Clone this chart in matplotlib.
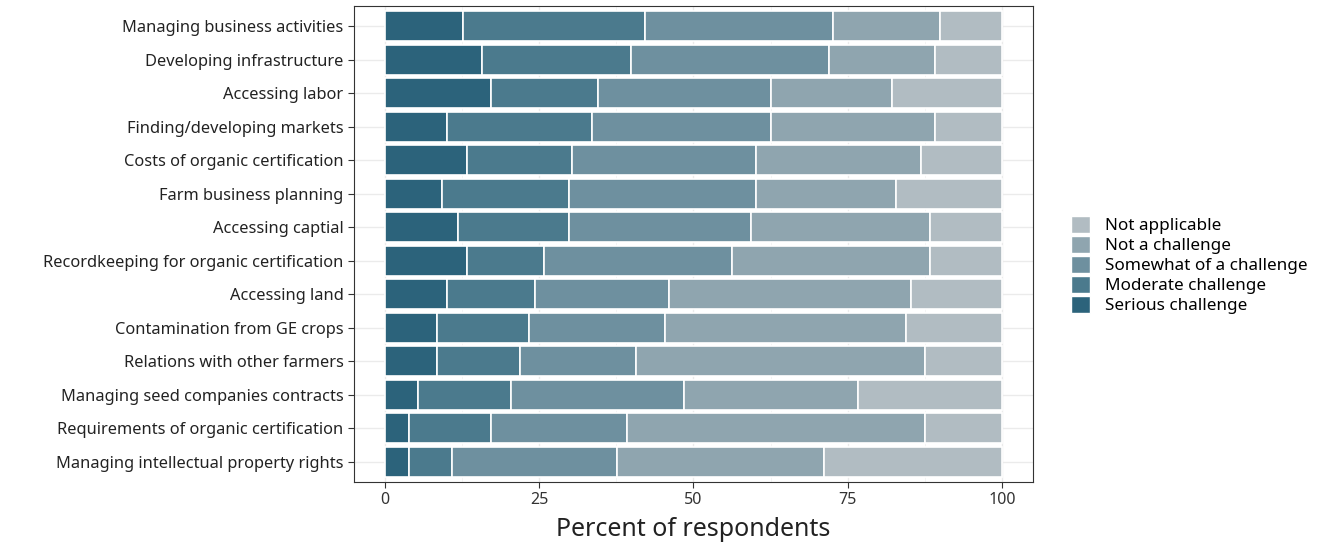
import matplotlib.pyplot as plt
import numpy as np
from matplotlib.patches import Patch

plt.rcParams['font.family'] = ['Noto Sans', 'DejaVu Sans']

challenges = [
    "Managing business activities",
    "Developing infrastructure",
    "Accessing labor",
    "Finding/developing markets",
    "Costs of organic certification",
    "Farm business planning",
    "Accessing captial",
    "Recordkeeping for organic certification",
    "Accessing land",
    "Contamination from GE crops",
    "Relations with other farmers",
    "Managing seed companies contracts",
    "Requirements of organic certification",
    "Managing intellectual property rights",
]

serious = [12.6, 15.7, 17.2, 10.1, 13.3, 9.3, 11.8, 13.3, 10.1, 8.5, 8.5, 5.4, 3.9, 3.9]
moderate = [29.6, 24.2, 17.3, 23.5, 17.1, 20.5, 18.0, 12.5, 14.2, 14.9, 13.4, 15.0, 13.3, 7.0]
somewhat = [30.5, 32.0, 28.1, 29.0, 29.8, 30.4, 29.6, 30.5, 21.7, 22.0, 18.8, 28.1, 22.0, 26.7]
not_challenge = [17.2, 17.3, 19.6, 26.6, 26.7, 22.7, 29.0, 32.1, 39.3, 39.1, 46.9, 28.1, 48.4, 33.5]
not_applicable = [10.1, 10.8, 17.8, 10.8, 13.1, 17.1, 11.6, 11.6, 14.7, 15.5, 12.4, 23.4, 12.4, 28.9]

levels = ["Serious challenge", "Moderate challenge", "Somewhat of a challenge",
          "Not a challenge", "Not applicable"]
colors = ["#2c637b", "#4b7a8d", "#6e909f", "#8fa5af", "#b1bcc2"]


def main():
    fig = plt.figure(figsize=(13.39, 5.46), dpi=100)
    ax = fig.add_axes([0.2644, 0.1172, 0.5069, 0.8718])

    series = [serious, moderate, somewhat, not_challenge, not_applicable]
    n = len(challenges)
    y = np.arange(n, 0, -1)
    left = np.zeros(n)
    for vals, col in zip(series, colors):
        vals = np.array(vals)
        ax.barh(y, vals, left=left, height=0.9, color=col,
                edgecolor="white", linewidth=1.2, zorder=3)
        left += vals

    ax.set_xlim(-5, 105)
    ax.set_ylim(0.4, n + 0.6)
    ax.set_yticks(y)
    ax.set_yticklabels(challenges, fontsize=11.8, color="#222222")
    ax.set_xticks([0, 25, 50, 75, 100])
    ax.set_xticklabels(["0", "25", "50", "75", "100"], fontsize=11.5, color="#333333")
    ax.set_xticks([12.5, 37.5, 62.5, 87.5], minor=True)
    ax.tick_params(axis="both", which="major", length=4, width=0.8, color="#333333")
    ax.tick_params(axis="x", which="minor", length=0)
    ax.grid(which="major", color="#ebebeb", linewidth=1.0, zorder=0)
    ax.grid(which="minor", axis="x", color="#f3f3f3", linewidth=0.6, zorder=0)
    ax.set_axisbelow(True)
    for sp in ax.spines.values():
        sp.set_color("#333333")
        sp.set_linewidth(0.8)

    ax.set_xlabel("Percent of respondents", fontsize=18, color="#222222", labelpad=6)

    handles = [Patch(facecolor=c, edgecolor="white", label=l)
               for c, l in zip(colors[::-1], levels[::-1])]
    fig.legend(handles=handles, loc="center left", bbox_to_anchor=(0.7945, 0.515),
               frameon=False, fontsize=12.3, handlelength=1.15, handleheight=1.15,
               labelspacing=0.1, handletextpad=0.85, borderaxespad=0)

    fig.savefig("out.png", dpi=100)


if __name__ == "__main__":
    main()
